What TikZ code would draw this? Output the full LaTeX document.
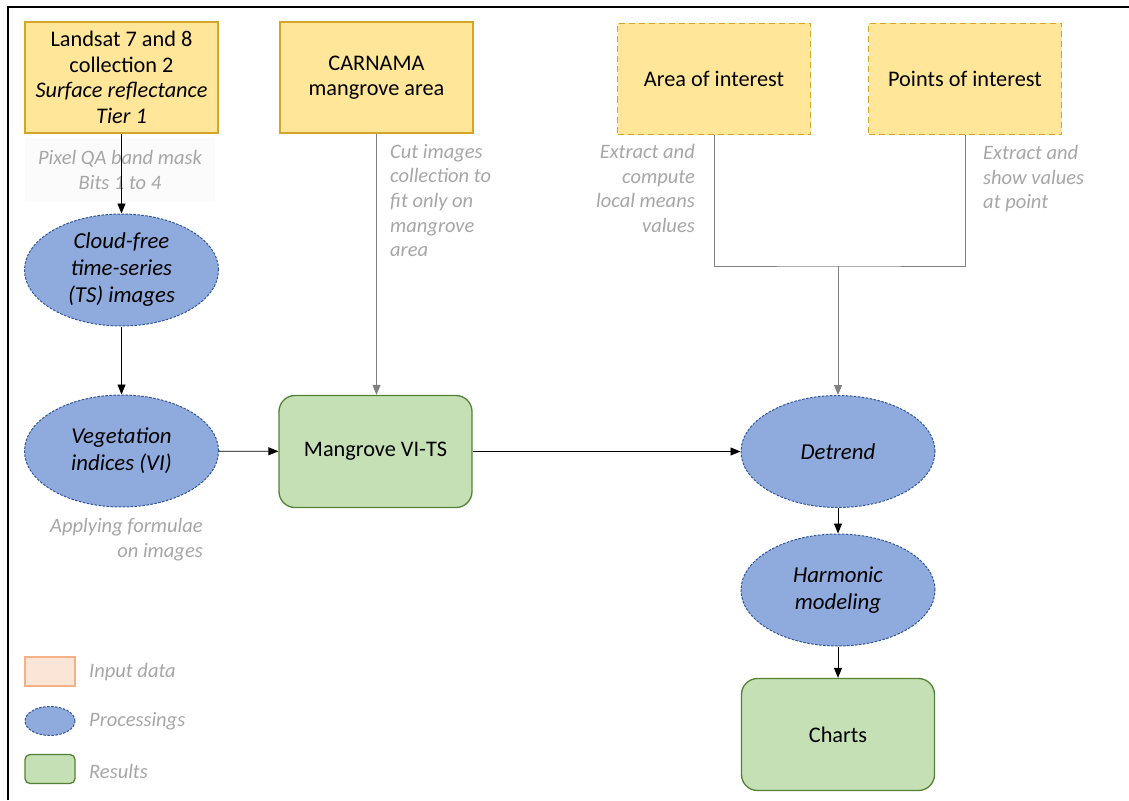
\documentclass[tikz,border=0pt]{standalone}
\usepackage{fontspec}
\setmainfont{Carlito}
\usepackage{tikz}
\usetikzlibrary{arrows.meta}
\usetikzlibrary{shapes.geometric}
\definecolor{myellow}{HTML}{FFE699}
\definecolor{mgold}{HTML}{D4A528}
\definecolor{mblue}{HTML}{8FAADC}
\definecolor{mnavy}{HTML}{2F5597}
\definecolor{mlgreen}{HTML}{C5E0B4}
\definecolor{mgreen}{HTML}{548235}
\definecolor{mpeach}{HTML}{FBE5D6}
\definecolor{morange}{HTML}{F4B183}
\definecolor{mgrey}{HTML}{A6A6A6}
\definecolor{mline}{HTML}{808080}
\tikzset{input/.style = {draw=mgold, fill=myellow, line width=1.3pt,
                         minimum width=193pt, minimum height=111pt,
                         align=center, font=\fontsize{22.3}{25.5}\selectfont},
         aoi/.style = {input, dash pattern=on 6pt off 4pt},
         process/.style = {ellipse, draw=mnavy, fill=mblue, line width=1pt,
                           dash pattern=on 2.5pt off 1.5pt, inner sep=0pt,
                           minimum width=194pt, minimum height=112pt,
                           align=center, font=\fontsize{22.8}{27}\selectfont\itshape},
         result/.style = {draw=mgreen, fill=mlgreen, line width=1.3pt, rounded corners=16pt,
                          minimum width=193pt, minimum height=112pt,
                          align=center, font=\fontsize{22.3}{25}\selectfont},
         note/.style = {text=mgrey, inner sep=0pt,
                        font=\fontsize{20.5}{24.6}\selectfont\itshape},
         flow/.style = {line width=0.9pt, -{Triangle[length=10pt, width=8pt]}},
         feed/.style = {draw=mline, line width=1pt},
         key/.style = {minimum width=50pt, minimum height=29pt, line width=1.3pt}}

\begin{document}
\begin{tikzpicture}[x=1pt, y=-1pt]
      \useasboundingbox (0, 0) rectangle (1129, 800);
      \draw [line width=1.6pt] (8, 800) -- (8, 7) -- (1129, 7);

      \node [input] (landsat) at (121.5, 77.5) {Landsat 7 and 8\\collection 2\\\textit{Surface reflectance}\\\textit{Tier 1}};
      \node [input] (carnama) at (376.5, 77.5) {CARNAMA\\mangrove area};
      \node [aoi] (area) at (714, 79) {Area of interest};
      \node [aoi] (points) at (965, 79) {Points of interest};

      \node [note, fill=black!1.5, minimum width=190pt, minimum height=64pt, align=center] (mask) at (120, 170) {Pixel QA band mask\\Bits 1 to 4};
      \node [process] (cloud) at (121.5, 270) {Cloud-free\\time-series\\(TS) images};
      \node [process] (vi) at (121.5, 451) {Vegetation\\indices (VI)};
      \node [note, anchor=north east, align=right] (formula) at (203, 518) {Applying formulae\\on images};

      \node [result] (vits) at (375.5, 451.5) {Mangrove VI-TS};
      \node [note, anchor=north west, align=left] (cut) at (390, 144) {Cut images\\collection to\\fit only on\\mangrove\\area};

      \node [note, anchor=north east, align=right] (means) at (695, 144) {Extract and\\compute\\local means\\values};
      \node [note, anchor=north west, align=left] (show) at (983, 145) {Extract and\\show values\\at point};

      \node [process] (detrend) at (838, 451.5) {Detrend};
      \node [process] (harmonic) at (838, 590) {Harmonic\\modeling};
      \node [result] (charts) at (838, 734.5) {Charts};

      \coordinate (split) at (838, 266);
      \draw [feed] (area.south) |- (split) -| (points.south);

      \draw [flow] (landsat) -- (cloud);
      \draw [flow] (cloud) -- (vi);
      \draw [flow] (vi) -- (vits);
      \draw [feed, flow] (carnama.south) -- (carnama.south |- vits.north);
      \draw [flow] (vits) -- (detrend);
      \draw [feed, flow] (split) -- (detrend);
      \draw [flow] (detrend) -- (harmonic);
      \draw [flow] (harmonic) -- (charts);

      \node [key, draw=morange, fill=mpeach] (kinput) at (50, 671.5) {};
      \node [key, ellipse, draw=mnavy, fill=mblue, line width=1pt, dash pattern=on 2.5pt off 1.5pt, inner sep=0pt] (kproc) at (50, 721) {};
      \node [key, draw=mgreen, fill=mlgreen, rounded corners=5pt] (kres) at (50, 769) {};
      \node [note, anchor=west, font=\fontsize{20.5}{24}\selectfont\itshape] at (89, 672) {Input data};
      \node [note, anchor=west, font=\fontsize{20.5}{24}\selectfont\itshape] at (89, 721.5) {Processings};
      \node [note, anchor=west, font=\fontsize{20.5}{24}\selectfont\itshape] at (89, 771) {Results};
    \end{tikzpicture}
\end{document}
